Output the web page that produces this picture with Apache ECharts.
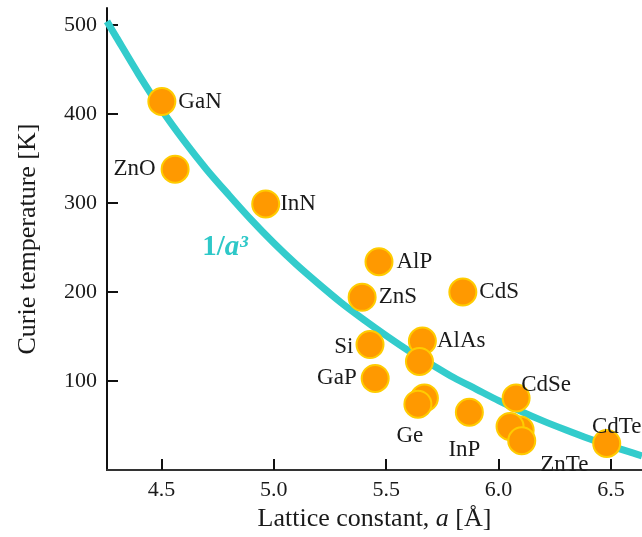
<!DOCTYPE html>
<html><head><meta charset="utf-8">
<script src="https://cdn.jsdelivr.net/npm/echarts@6/dist/echarts.min.js"></script>
<style>html,body{margin:0;padding:0;background:#fff}#c{width:642px;height:537px}</style>
</head><body><div id="c"></div>
<script>
// Data
const materials = ['GaN','ZnO','InN','AlP','ZnS','CdS','Si','GaP','AlAs','','','Ge','InP','CdSe','','','ZnTe','CdTe'];
const latticeA  = [4.502,4.561,4.964,5.468,5.393,5.841,5.428,5.451,5.661,5.648,5.670,5.641,5.870,6.078,6.096,6.051,6.103,6.481];
const curieT    = [414,338,299,234,194,200,141,103,145,122,81,74,65,81,45,49,33,30];
const curveA    = [4.258,4.3,4.4,4.5,4.6,4.7,4.8,4.9,5.0,5.1,5.2,5.3,5.4,5.5,5.6,5.7,5.8,5.9,6.0,6.1,6.2,6.3,6.4,6.5,6.6,6.638];
const curveT    = [504,486,444,405,370,338,309,281,255,231,209,188,169,151,134,119,104,91,78,66,55,45,35.5,27,19,16];
const xTicks = [4.5,5.0,5.5,6.0,6.5];
const yTicks = [100,200,300,400,500];
const curveLabelPos = [4.783,250];

const FONT = '"Liberation Serif", "DejaVu Serif", serif';
const labelStyle = {
  GaN:{position:'right',distance:2},
  ZnO:{position:'left',distance:5},
  InN:{position:'right',distance:0},
  AlP:{position:'right',distance:3},
  ZnS:{position:'right',distance:2},
  CdS:{position:'right',distance:2},
  Si:{position:'left',distance:2,offset:[0,2]},
  GaP:{position:'left',distance:4},
  AlAs:{position:'right',distance:0},
  Ge:{position:'bottom',distance:0,offset:[-8,6]},
  InP:{position:'bottom',distance:3,offset:[-5,9]},
  CdSe:{position:'top',distance:0,offset:[30,13]},
  ZnTe:{position:'right',distance:3,offset:[1,24]},
  CdTe:{position:'top',distance:0,offset:[10,10]}
};

const scatterData = latticeA.map((a,i)=>{
  const n = materials[i];
  const d = {value:[a,curieT[i]], name:n};
  if (n && labelStyle[n]) {
    d.label = Object.assign({show:true, formatter:n}, labelStyle[n]);
  } else {
    d.label = {show:false};
  }
  return d;
});

const chart = echarts.init(document.getElementById('c'), null, {renderer:'canvas'});
chart.setOption({
  animation:false,
  backgroundColor:'#fff',
  grid:{left:107, top:8, right:0, bottom:58.5, containLabel:false},
  xAxis:[{
    type:'value', min:4.258, max:6.638,
    name:'Lattice constant, {i|a} [Å]',
    nameLocation:'middle', nameGap:30,
    nameTextStyle:{fontFamily:FONT, fontSize:26, color:'#1a1a1a',
      rich:{i:{fontFamily:FONT, fontSize:26, fontStyle:'italic', color:'#1a1a1a'}}},
    axisLine:{show:true, onZero:false, lineStyle:{color:'#111', width:2}},
    axisTick:{show:true, inside:true, length:11, lineStyle:{color:'#111', width:2}, customValues:xTicks},
    axisLabel:{fontFamily:FONT, fontSize:22, color:'#1a1a1a', margin:9, customValues:xTicks,
      formatter:v=>Number(v).toFixed(1)},
    splitLine:{show:false}
  },{
    type:'value', position:'top', min:4.258, max:6.638,
    axisLine:{show:true, lineStyle:{color:'#333', width:2}},
    axisTick:{show:false}, axisLabel:{show:false}, splitLine:{show:false}
  }],
  yAxis:{
    type:'value', min:0, max:519,
    name:'Curie temperature [K]',
    nameLocation:'middle', nameGap:66,
    nameTextStyle:{fontFamily:FONT, fontSize:26, color:'#1a1a1a'},
    axisLine:{show:true, onZero:false, lineStyle:{color:'#111', width:2}},
    axisTick:{show:true, inside:true, length:11, lineStyle:{color:'#111', width:2}, customValues:yTicks},
    axisLabel:{fontFamily:FONT, fontSize:22, color:'#1a1a1a', margin:10, customValues:yTicks},
    splitLine:{show:false}
  },
  series:[{
    type:'line',
    data:curveA.map((a,i)=>[a,curveT[i]]),
    smooth:0.3, symbol:'none', z:2,
    lineStyle:{color:'#33CCCC', width:7},
    markPoint:{
      symbol:'circle', symbolSize:0, silent:true,
      data:[{coord:curveLabelPos}],
      label:{show:true, position:'inside', formatter:'{b|1/}{i|a³}',
        rich:{
          b:{fontFamily:FONT, fontSize:29, fontWeight:'bold', color:'#2EC8C8'},
          i:{fontFamily:FONT, fontSize:29, fontWeight:'bold', fontStyle:'italic', color:'#2EC8C8'}
        }}
    }
  },{
    type:'scatter',
    data:scatterData,
    symbol:'circle', symbolSize:27, z:5,
    itemStyle:{color:'#FF9900', borderColor:'#FFCC00', borderWidth:2, opacity:1},
    label:{fontFamily:FONT, fontSize:23, color:'#1a1a1a'}
  }]
});
</script>
</body></html>
